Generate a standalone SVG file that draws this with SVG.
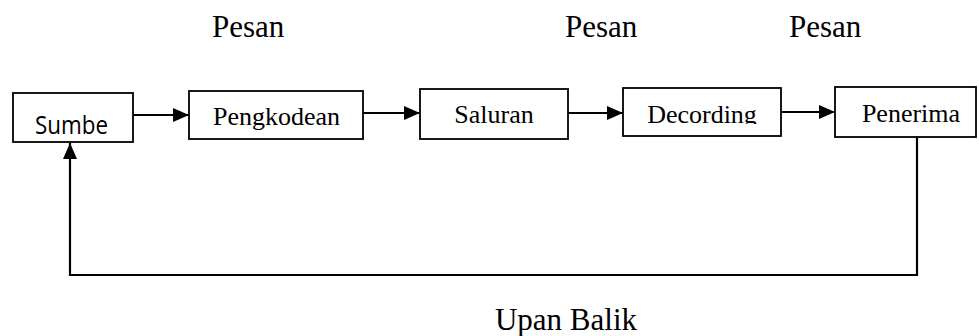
<svg xmlns="http://www.w3.org/2000/svg" width="979" height="336" viewBox="0 0 979 336">
  <style>
    .box { fill: #ffffff; stroke: #000000; stroke-width: 1.8; }
    .serif { font-family: "Liberation Serif", "Times New Roman", serif; fill: #000000; }
    .lbl { font-size: 26px; text-anchor: middle; }
    .big { font-size: 31px; }
    .sans { font-family: "Open Sans", "Liberation Sans", sans-serif; fill: #000000; }
    .wire { fill: none; stroke: #000000; stroke-width: 2.2; }
  </style>
  <defs>
    <marker id="arrow" markerUnits="userSpaceOnUse" markerWidth="17" markerHeight="15" refX="16" refY="7" orient="auto">
      <path d="M0,0 L16,7 L0,14 z" fill="#000000"/>
    </marker>
    <clipPath id="decClip">
      <rect x="623" y="88" width="158" height="36"/>
    </clipPath>
  </defs>

  <rect width="979" height="336" fill="#ffffff"/>

  <!-- message labels -->
  <text class="serif big" x="212" y="37">Pesan</text>
  <text class="serif big" x="565" y="37">Pesan</text>
  <text class="serif big" x="789" y="37">Pesan</text>

  <g id="sumbe">
    <rect class="box" x="13" y="93" width="120" height="49"/>
    <text class="sans" x="35" y="134" font-size="25" textLength="73" lengthAdjust="spacingAndGlyphs">Sumbe</text>
  </g>
  <g id="pengkodean">
    <rect class="box" x="189" y="91" width="174" height="48"/>
    <text class="serif lbl" x="276.5" y="125">Pengkodean</text>
  </g>
  <g id="saluran">
    <rect class="box" x="420" y="89" width="148" height="50"/>
    <text class="serif lbl" x="494" y="123">Saluran</text>
  </g>
  <g id="decording">
    <rect class="box" x="623" y="88" width="158" height="48"/>
    <text class="serif lbl" x="702" y="123" clip-path="url(#decClip)">Decording</text>
  </g>
  <g id="penerima">
    <rect class="box" x="835" y="87" width="141" height="50"/>
    <text class="serif lbl" x="911" y="122">Penerima</text>
  </g>

  <g id="connectors">
    <line class="wire" x1="133" y1="115" x2="189" y2="115" marker-end="url(#arrow)"/>
    <line class="wire" x1="363" y1="113" x2="420" y2="113" marker-end="url(#arrow)"/>
    <line class="wire" x1="568" y1="113" x2="623" y2="113" marker-end="url(#arrow)"/>
    <line class="wire" x1="781" y1="112" x2="835" y2="112" marker-end="url(#arrow)"/>
    <polyline class="wire" points="917,137 917,275 70,275 70,143" marker-end="url(#arrow)"/>
  </g>

  <text class="serif big" x="637" y="330" text-anchor="end">Upan Balik</text>
</svg>
